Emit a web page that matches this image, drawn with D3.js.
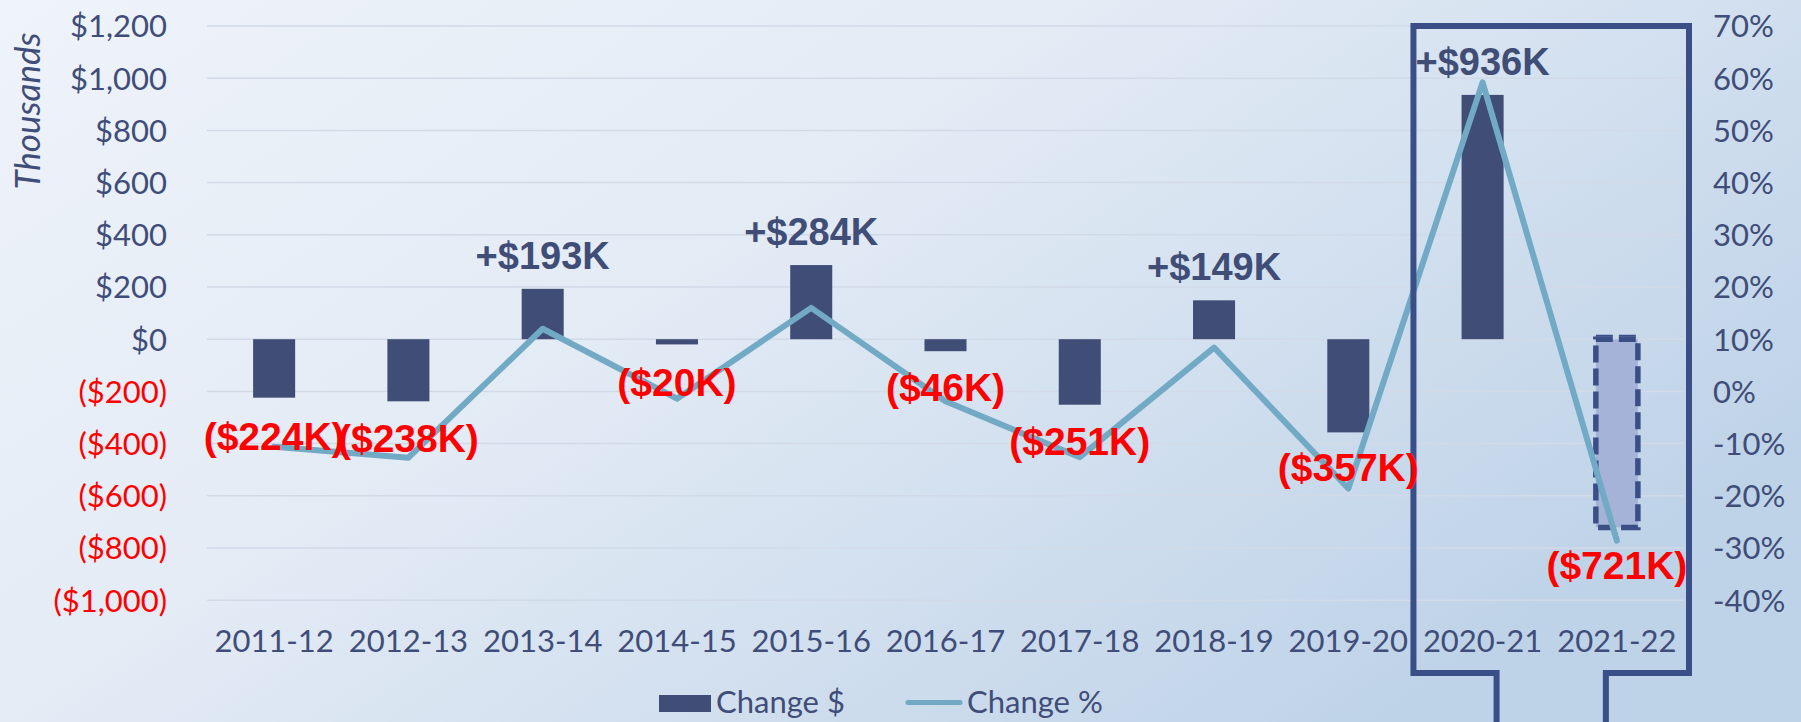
<!DOCTYPE html>
<html>
<head>
<meta charset="utf-8">
<script src="https://cdn.jsdelivr.net/npm/d3@7"></script>
<style>
  html, body { margin: 0; padding: 0; overflow: hidden; }
  svg { display: block; }
</style>
</head>
<body>
<svg id="chart" width="1801" height="722"></svg>
<script>
// ---- data ----
const categories = ["2011-12","2012-13","2013-14","2014-15","2015-16","2016-17","2017-18","2018-19","2019-20","2020-21","2021-22"];
const changeDollars = [-224, -238, 193, -20, 284, -46, -251, 149, -357, 936, -721]; // thousands
const changePct = [-10.6, -12.7, 12.0, -1.4, 16.0, -1.9, -12.6, 8.4, -18.6, 59.2, -28.6];
const leftTicks = [-1000, -800, -600, -400, -200, 0, 200, 400, 600, 800, 1000, 1200];
const rightTicks = [-40, -30, -20, -10, 0, 10, 20, 30, 40, 50, 60, 70];
const projectedCategory = "2021-22";
const highlightCategories = ["2020-21", "2021-22"];

// ---- layout tweaks (label nudges, px) ----
const negLabelDy = {"2011-12": 3, "2012-13": -6, "2014-15": -3, "2016-17": 0, "2017-18": -2, "2019-20": -7, "2021-22": 38};

const W = 1801, H = 722;
const plot = {left: 207, right: 1684, top: 26, bottom: 600.2};
const navy = "#404d76", red = "#ff0000", lineCol = "#72a9c5", boxCol = "#3a4f88", textCol = "#404d78";

const svg = d3.select("#chart");
const defs = svg.append("defs");
const grad = defs.append("linearGradient").attr("id", "bg")
  .attr("x1", "0").attr("y1", "0").attr("x2", "1").attr("y2", "0.6");
grad.append("stop").attr("offset", "0").attr("stop-color", "#eff3fa");
grad.append("stop").attr("offset", "0.45").attr("stop-color", "#e3ebf5");
grad.append("stop").attr("offset", "1").attr("stop-color", "#bfd3e8");
svg.append("rect").attr("width", W).attr("height", H).attr("fill", "url(#bg)");

const x = d3.scaleBand().domain(categories).range([plot.left, plot.right])
  .paddingInner(0.687).paddingOuter(0.3435);
const yL = d3.scaleLinear().domain([-1000, 1200]).range([plot.bottom, plot.top]);
const yR = d3.scaleLinear().domain([-40, 70]).range([plot.bottom, plot.top]);
const cx = c => x(c) + x.bandwidth() / 2;

const tickFont = "Lato, 'Open Sans', sans-serif";

// gridlines
svg.append("g").selectAll("line").data(leftTicks).join("line")
  .attr("x1", plot.left).attr("x2", plot.right)
  .attr("y1", d => yL(d)).attr("y2", d => yL(d))
  .attr("stroke", "#d2dae8").attr("stroke-width", 1.5);

// left axis
const fmtL = v => v < 0 ? "($" + d3.format(",")(-v) + ")" : "$" + d3.format(",")(v);
const gL = svg.append("g").attr("transform", `translate(${plot.left},0)`)
  .call(d3.axisLeft(yL).tickValues(leftTicks).tickFormat(fmtL).tickSize(0).tickPadding(40));
gL.select(".domain").remove();
gL.selectAll("text").attr("font-family", tickFont).attr("font-size", 31)
  .attr("fill", d => d < 0 ? red : textCol).attr("dy", "0.35em");

// right axis
const gR = svg.append("g").attr("transform", `translate(${plot.right},0)`)
  .call(d3.axisRight(yR).tickValues(rightTicks).tickFormat(d => d + "%").tickSize(0).tickPadding(29));
gR.select(".domain").remove();
gR.selectAll("text").attr("font-family", tickFont).attr("font-size", 31)
  .attr("fill", textCol).attr("dy", "0.35em");

// bottom axis
const gB = svg.append("g").attr("transform", `translate(0,${plot.bottom})`)
  .call(d3.axisBottom(x).tickSize(0).tickPadding(0));
gB.select(".domain").remove();
gB.selectAll("text").attr("font-family", tickFont).attr("font-size", 31)
  .attr("fill", textCol).attr("y", 52).attr("dy", 0);

// axis title
svg.append("text").attr("transform", `translate(40,111) rotate(-90)`)
  .attr("text-anchor", "middle").attr("font-family", tickFont).attr("font-style", "italic")
  .attr("font-size", 35).attr("fill", textCol).text("Thousands");

// bars
const barData = categories.map((c, i) => ({c, v: changeDollars[i], p: changePct[i]}));
svg.append("g").selectAll("rect").data(barData.filter(d => d.c !== projectedCategory)).join("rect")
  .attr("x", d => x(d.c)).attr("width", x.bandwidth())
  .attr("y", d => yL(Math.max(0, d.v))).attr("height", d => Math.abs(yL(d.v) - yL(0)))
  .attr("fill", navy);

// projected (dashed) bar
const pd = barData.find(d => d.c === projectedCategory);
svg.append("rect")
  .attr("x", x(pd.c)).attr("width", x.bandwidth())
  .attr("y", yL(Math.max(0, pd.v))).attr("height", Math.abs(yL(pd.v) - yL(0)))
  .attr("fill", "#a6b3d8").attr("stroke", "#3b4f86").attr("stroke-width", 5.5)
  .attr("stroke-dasharray", "17,6");
svg.append("line")
  .attr("x1", x(pd.c)).attr("x2", x(pd.c) + x.bandwidth())
  .attr("y1", yL(0) - 3.5).attr("y2", yL(0) - 3.5)
  .attr("stroke", "#3b4f86").attr("stroke-width", 2).attr("stroke-dasharray", "17,6");

// percent line
const line = d3.line().x(d => cx(d.c)).y(d => yR(d.p));
svg.append("path").datum(barData).attr("d", line)
  .attr("fill", "none").attr("stroke", lineCol).attr("stroke-width", 6)
  .attr("stroke-linejoin", "round").attr("stroke-linecap", "round");

// highlight box with tab (drawn from band positions)
const hb0 = x(highlightCategories[0]) - x.step() * x.paddingInner() / 2 - 2;
const hb1 = x(highlightCategories[1]) + x.bandwidth() + x.step() * x.paddingInner() / 2 + 5;
const boxTop = 26, boxBot = 673;
const notchL = cx(highlightCategories[0]) + 14, notchR = cx(highlightCategories[1]) - 11;
const bp = d3.path();
bp.moveTo(notchL, H + 5); bp.lineTo(notchL, boxBot); bp.lineTo(hb0, boxBot);
bp.lineTo(hb0, boxTop); bp.lineTo(hb1, boxTop); bp.lineTo(hb1, boxBot);
bp.lineTo(notchR, boxBot); bp.lineTo(notchR, H + 5);
svg.append("path").attr("d", bp.toString()).attr("fill", "none")
  .attr("stroke", boxCol).attr("stroke-width", 6).attr("stroke-linejoin", "miter");

// data labels
const labFont = "'Liberation Sans', Arial, sans-serif";
const fmtLab = v => v > 0 ? "+$" + v + "K" : "($" + (-v) + "K)";
svg.append("g").selectAll("text").data(barData).join("text")
  .attr("x", d => cx(d.c))
  .attr("y", d => d.v > 0 ? yL(d.v) - 20 : yR(d.p) + (negLabelDy[d.c] || 0))
  .attr("text-anchor", "middle").attr("font-family", labFont).attr("font-weight", "bold")
  .attr("font-size", d => d.v > 0 ? 38 : 39)
  .attr("fill", d => d.v > 0 ? navy : red)
  .text(d => fmtLab(d.v));

// legend
const lg = svg.append("g");
lg.append("rect").attr("x", 659).attr("y", 695).attr("width", 52).attr("height", 17).attr("fill", navy);
lg.append("text").attr("x", 716).attr("y", 713).attr("font-family", tickFont).attr("font-size", 31)
  .attr("fill", textCol).text("Change $");
lg.append("line").attr("x1", 908).attr("x2", 960).attr("y1", 702.5).attr("y2", 702.5)
  .attr("stroke", lineCol).attr("stroke-width", 5).attr("stroke-linecap", "round");
lg.append("text").attr("x", 967).attr("y", 713).attr("font-family", tickFont).attr("font-size", 31)
  .attr("fill", textCol).text("Change %");
</script>
</body>
</html>
